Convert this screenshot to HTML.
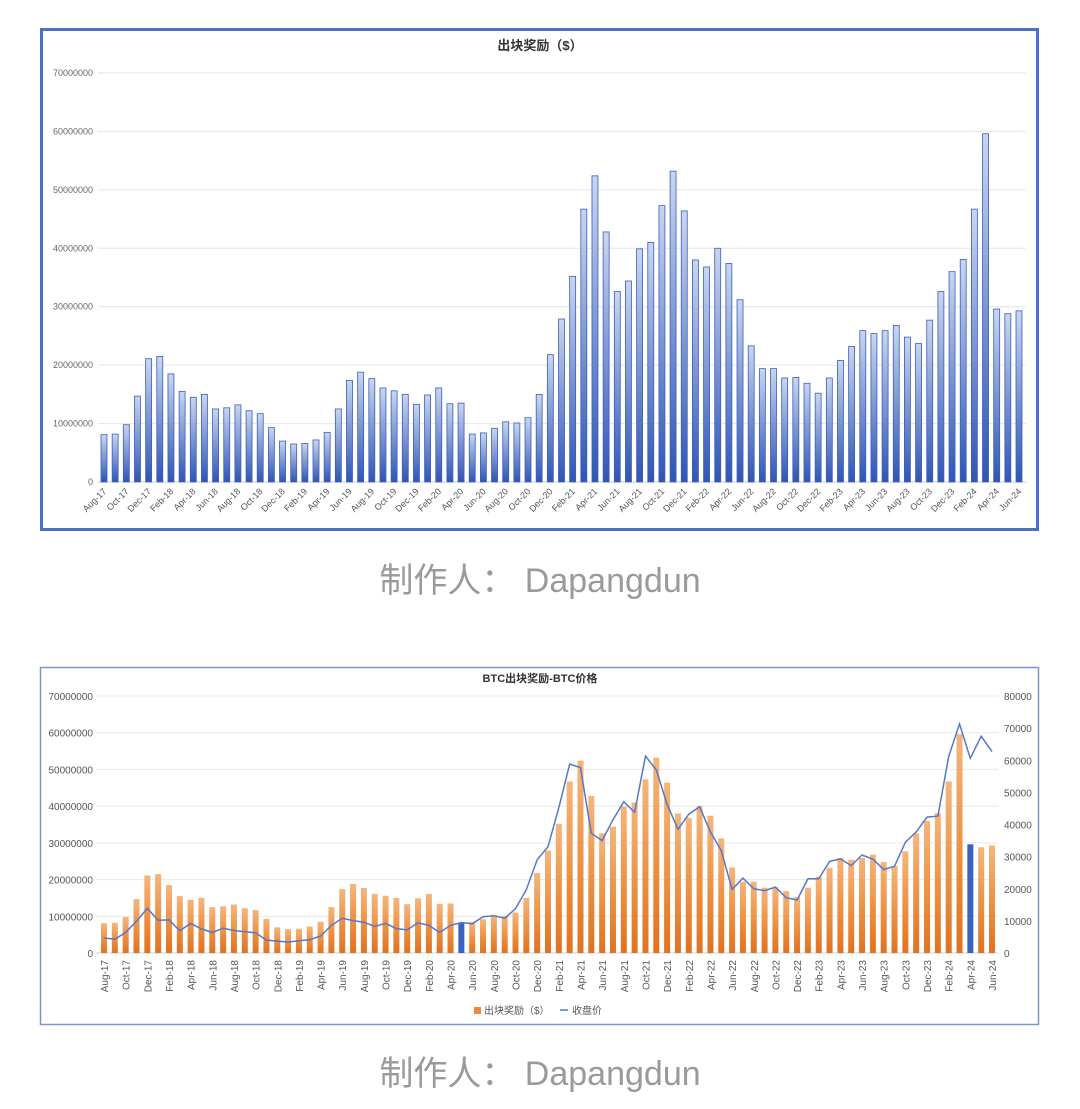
<!DOCTYPE html>
<html><head><meta charset="utf-8"><style>
body{margin:0;background:#fff;width:1080px;height:1109px;overflow:hidden}
svg{display:block;font-family:"Liberation Sans","Noto Sans CJK SC",sans-serif}
</style></head><body>
<svg id="s" width="1080" height="1109">
<defs>
<linearGradient id="gb" x1="0" y1="0" x2="0" y2="1"><stop offset="0" stop-color="#c9d6f0"/><stop offset="1" stop-color="#2f55b5"/></linearGradient>
<linearGradient id="go" x1="0" y1="0" x2="0" y2="1"><stop offset="0" stop-color="#f5b57c"/><stop offset="0.5" stop-color="#ec9447"/><stop offset="1" stop-color="#e0721f"/></linearGradient>
</defs>
<rect x="41.5" y="29.5" width="996" height="500" fill="#fff" stroke="#4a70c2" stroke-width="3"/>
<text x="540" y="50" text-anchor="middle" font-size="13" font-weight="bold" fill="#333">出块奖励（$）</text>
<text x="540" y="592" text-anchor="middle" font-size="34" fill="#9a9a9a">制作人： Dapangdun</text>
<rect x="40.5" y="667.5" width="998" height="357" fill="#fff" stroke="#7f93c4" stroke-width="1.5"/>
<text x="540" y="682" text-anchor="middle" font-size="11" font-weight="bold" fill="#333">BTC出块奖励-BTC价格</text>
<text x="540" y="1085" text-anchor="middle" font-size="34" fill="#9a9a9a">制作人： Dapangdun</text>
<g id="top"></g><g id="bot"></g>
<g>
<rect x="474" y="1007" width="7" height="7" fill="#e98a3c"/>
<text x="484" y="1014" font-size="10" fill="#555">出块奖励（$）</text>
<line x1="560" y1="1010" x2="568" y2="1010" stroke="#5577cc" stroke-width="1.5"/>
<text x="572" y="1014" font-size="10" fill="#555">收盘价</text>
</g>
</svg>
<script>
const months=["Aug-17","Sep-17","Oct-17","Nov-17","Dec-17","Jan-18","Feb-18","Mar-18","Apr-18","May-18","Jun-18","Jul-18","Aug-18","Sep-18","Oct-18","Nov-18","Dec-18","Jan-19","Feb-19","Mar-19","Apr-19","May-19","Jun-19","Jul-19","Aug-19","Sep-19","Oct-19","Nov-19","Dec-19","Jan-20","Feb-20","Mar-20","Apr-20","May-20","Jun-20","Jul-20","Aug-20","Sep-20","Oct-20","Nov-20","Dec-20","Jan-21","Feb-21","Mar-21","Apr-21","May-21","Jun-21","Jul-21","Aug-21","Sep-21","Oct-21","Nov-21","Dec-21","Jan-22","Feb-22","Mar-22","Apr-22","May-22","Jun-22","Jul-22","Aug-22","Sep-22","Oct-22","Nov-22","Dec-22","Jan-23","Feb-23","Mar-23","Apr-23","May-23","Jun-23","Jul-23","Aug-23","Sep-23","Oct-23","Nov-23","Dec-23","Jan-24","Feb-24","Mar-24","Apr-24","May-24","Jun-24"];
const rewardM=[8.1,8.2,9.8,14.7,21.1,21.5,18.5,15.5,14.5,15.0,12.5,12.7,13.2,12.2,11.7,9.3,7.0,6.5,6.6,7.2,8.5,12.5,17.4,18.8,17.7,16.1,15.6,15.0,13.3,14.9,16.1,13.4,13.5,8.2,8.4,9.2,10.3,10.1,11.0,15.0,21.8,27.9,35.2,46.7,52.4,42.8,32.6,34.4,39.9,41.0,47.3,53.2,46.4,38.0,36.8,40.0,37.4,31.2,23.3,19.4,19.4,17.8,17.9,16.9,15.2,17.8,20.8,23.2,25.9,25.4,25.9,26.8,24.8,23.7,27.7,32.6,36.0,38.1,46.7,59.6,29.6,28.8,29.3];
const priceK=[4.7,4.3,6.4,9.9,13.9,10.2,10.3,6.9,9.2,7.5,6.4,7.7,7.0,6.6,6.3,4.0,3.7,3.4,3.8,4.1,5.3,8.6,10.8,10.1,9.6,8.3,9.2,7.6,7.2,9.4,8.6,6.4,8.6,9.5,9.1,11.3,11.6,10.8,13.8,19.7,29.0,33.1,45.2,58.8,57.7,37.3,35.0,41.5,47.1,43.8,61.3,57.0,46.3,38.5,43.2,45.5,37.7,31.8,19.8,23.3,20.0,19.4,20.5,17.2,16.5,23.1,23.1,28.5,29.3,27.2,30.5,29.2,26.0,27.0,34.5,37.7,42.3,42.6,61.2,71.3,60.6,67.5,62.7];
const leftTicks=[0,10000000,20000000,30000000,40000000,50000000,60000000,70000000];
const rightTicks=[0,10000,20000,30000,40000,50000,60000,70000,80000];
const highlight=["May-20","Apr-24"];
const NS="http://www.w3.org/2000/svg";
function mk(p,t,a,txt){const e=document.createElementNS(NS,t);for(const k in a)e.setAttribute(k,a[k]);if(txt!=null)e.textContent=txt;p.appendChild(e);return e;}
const n=months.length;
(function(){
 const g=document.getElementById('top');
 const x0=104,x1=1019,y0=482,yT=73;
 const X=i=>x0+i*(x1-x0)/(n-1), Y=v=>y0-(v/70000000)*(y0-yT);
 leftTicks.forEach(t=>{
  if(t>0){const l=mk(g,'line',{x1:98,x2:1026,y1:Y(t),y2:Y(t),stroke:'#e6e6e6'});
  
  }
  const tx=mk(g,'text',{x:93,y:Y(t)+3,'text-anchor':'end','font-size':9,fill:'#666'},String(t));
  
  
 });
 mk(g,'line',{x1:98,x2:1026,y1:y0,y2:y0,stroke:'#cfcfcf'});
 months.forEach((m,i)=>{
  const v=rewardM[i]*1e6, y=Y(v);
  const r=mk(g,'rect',{x:X(i)-3,y:y,width:6,height:y0-y,fill:'url(#gb)',stroke:'#3a5fb8','stroke-width':0.8});
  
  
  if(i%2===0){
   const t=mk(g,'text',{x:X(i)+3,y:492,'text-anchor':'end','font-size':9,fill:'#555',transform:`rotate(-45 ${X(i)+3} 492)`},m);
   
   
  }
 });
})();
(function(){
 const g=document.getElementById('bot');
 const x0=104,x1=992,y0=953,yT=696;
 const X=i=>x0+i*(x1-x0)/(n-1), Y=v=>y0-(v/70000000)*(y0-yT), YR=v=>y0-(v/80000)*(y0-yT);
 leftTicks.forEach(t=>{
  const l=mk(g,'line',{x1:96,x2:998,y1:Y(t),y2:Y(t),stroke:t?'#e8e8e8':'#cfcfcf'});
  
  
  const tx=mk(g,'text',{x:93,y:Y(t)+4,'text-anchor':'end','font-size':10,fill:'#555'},String(t));
  
  
 });
 rightTicks.forEach(t=>{
  const tx=mk(g,'text',{x:1004,y:YR(t)+4,'font-size':10,fill:'#555'},String(t));
  
  
 });
 months.forEach((m,i)=>{
  const v=rewardM[i]*1e6, y=Y(v), hl=highlight.includes(m);
  const r=mk(g,'rect',{x:X(i)-3,y:y,width:6,height:y0-y,fill:hl?'#3a62c2':'url(#go)'});
  
  
  if(i%2===0){
   const t=mk(g,'text',{x:X(i)+4,y:960,'text-anchor':'end','font-size':10,fill:'#555',transform:`rotate(-90 ${X(i)+4} 960)`},m);
   
   
  }
 });
 const pts=priceK.map((p,i)=>X(i).toFixed(1)+','+YR(p*1000).toFixed(1)).join(' ');
 const pl=mk(g,'polyline',{points:pts,fill:'none',stroke:'#5577cc','stroke-width':1.5});
 
 
})();
</script>
</body></html>
